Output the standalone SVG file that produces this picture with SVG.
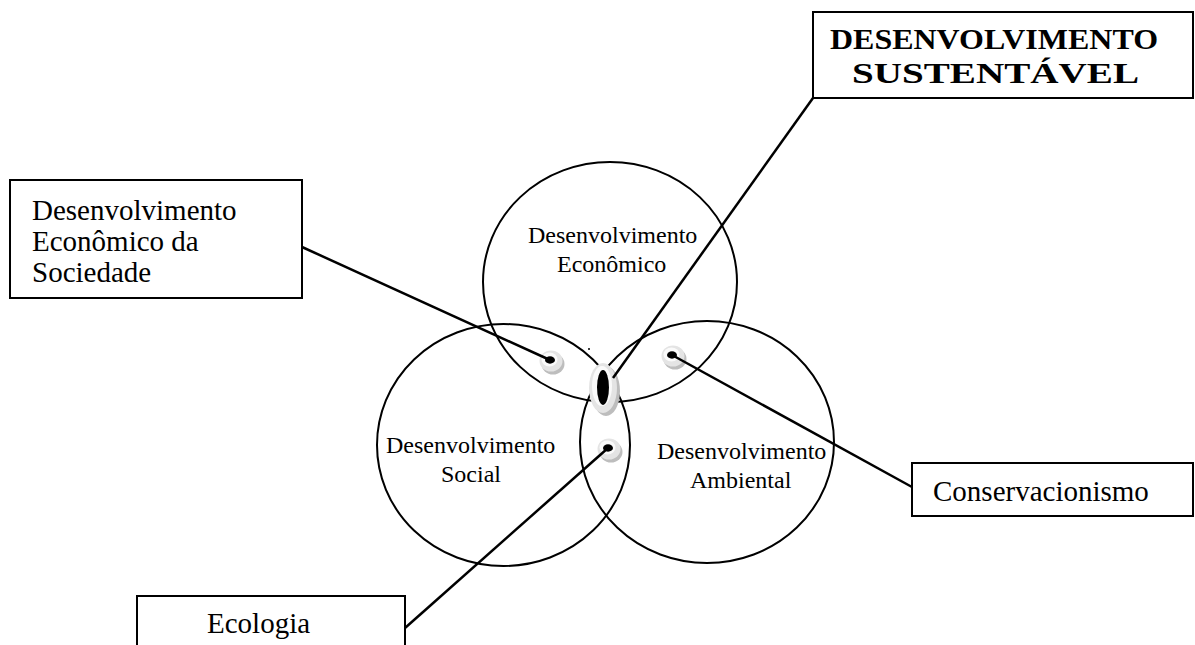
<svg xmlns="http://www.w3.org/2000/svg" width="1195" height="645" viewBox="0 0 1195 645">
<style>
.box{fill:#fff;stroke:#000;stroke-width:2}
.circ{fill:none;stroke:#000;stroke-width:2}
.t{font-family:"Liberation Serif","Times New Roman",serif;fill:#000}
.big{font-size:29px}
.small{font-size:24px}
.bold{font-size:30px;font-weight:bold}
.conn{stroke:#000;stroke-width:2.5;fill:none}
</style>
<defs>
<g id="dot">
<ellipse cx="2" cy="3" rx="11.5" ry="10.5" fill="#bdbdbd"/>
<ellipse cx="0" cy="0" rx="11.5" ry="10.5" fill="#e4e4e4"/>
<ellipse cx="-1.5" cy="-1.5" rx="8" ry="7" fill="#fafafa"/>
<ellipse cx="-1" cy="-1" rx="5" ry="3.7" fill="#000"/>
</g>
</defs>
<rect width="1195" height="645" fill="#fff"/>

<g id="circle-economico">
<ellipse class="circ" cx="610" cy="282" rx="127" ry="120"/>
<text class="t small" x="528" y="243">Desenvolvimento</text>
<text class="t small" x="557" y="272">Econômico</text>
</g>
<g id="circle-social">
<ellipse class="circ" cx="503.5" cy="445" rx="126.5" ry="121"/>
<text class="t small" x="386" y="453">Desenvolvimento</text>
<text class="t small" x="441" y="482">Social</text>
</g>
<g id="circle-ambiental">
<ellipse class="circ" cx="707" cy="442" rx="127" ry="121"/>
<text class="t small" x="657" y="459">Desenvolvimento</text>
<text class="t small" x="690" y="488">Ambiental</text>
</g>

<g id="dot-economico-social"><use href="#dot" x="551" y="361"/></g>
<g id="dot-conservacionismo"><use href="#dot" x="673" y="356"/></g>
<g id="dot-ecologia"><use href="#dot" x="609" y="449"/></g>
<g id="dot-sustentavel">
<ellipse cx="606" cy="391" rx="14" ry="25" fill="#bdbdbd"/>
<ellipse cx="603" cy="388" rx="14" ry="25" fill="#e4e4e4"/>
<ellipse cx="602" cy="386" rx="10" ry="20" fill="#fafafa"/>
<ellipse cx="603" cy="387.5" rx="6" ry="17.5" fill="#000"/>
</g>
<circle cx="589" cy="349" r="1" fill="#000"/>

<g id="connectors">
<line class="conn" x1="302" y1="247" x2="550" y2="360"/>
<line class="conn" x1="813" y1="98" x2="613" y2="378"/>
<line class="conn" x1="672" y1="355" x2="912" y2="487"/>
<line class="conn" x1="405" y1="628" x2="608" y2="448"/>
</g>

<g id="box-sustentavel">
<rect class="box" x="813" y="12" width="380" height="86"/>
<text class="t bold" x="830" y="49" textLength="328" lengthAdjust="spacingAndGlyphs">DESENVOLVIMENTO</text>
<text class="t bold" x="852" y="83" textLength="287" lengthAdjust="spacingAndGlyphs">SUSTENTÁVEL</text>
</g>
<g id="box-economico-sociedade">
<rect class="box" x="10" y="180" width="292" height="118"/>
<text class="t big" x="32" y="220">Desenvolvimento</text>
<text class="t big" x="32" y="251">Econômico da</text>
<text class="t big" x="32" y="282">Sociedade</text>
</g>
<g id="box-conservacionismo">
<rect class="box" x="912" y="463" width="281" height="53"/>
<text class="t big" x="933" y="501">Conservacionismo</text>
</g>
<g id="box-ecologia">
<rect class="box" x="137" y="596" width="268" height="60"/>
<text class="t big" x="207" y="633">Ecologia</text>
</g>
</svg>
